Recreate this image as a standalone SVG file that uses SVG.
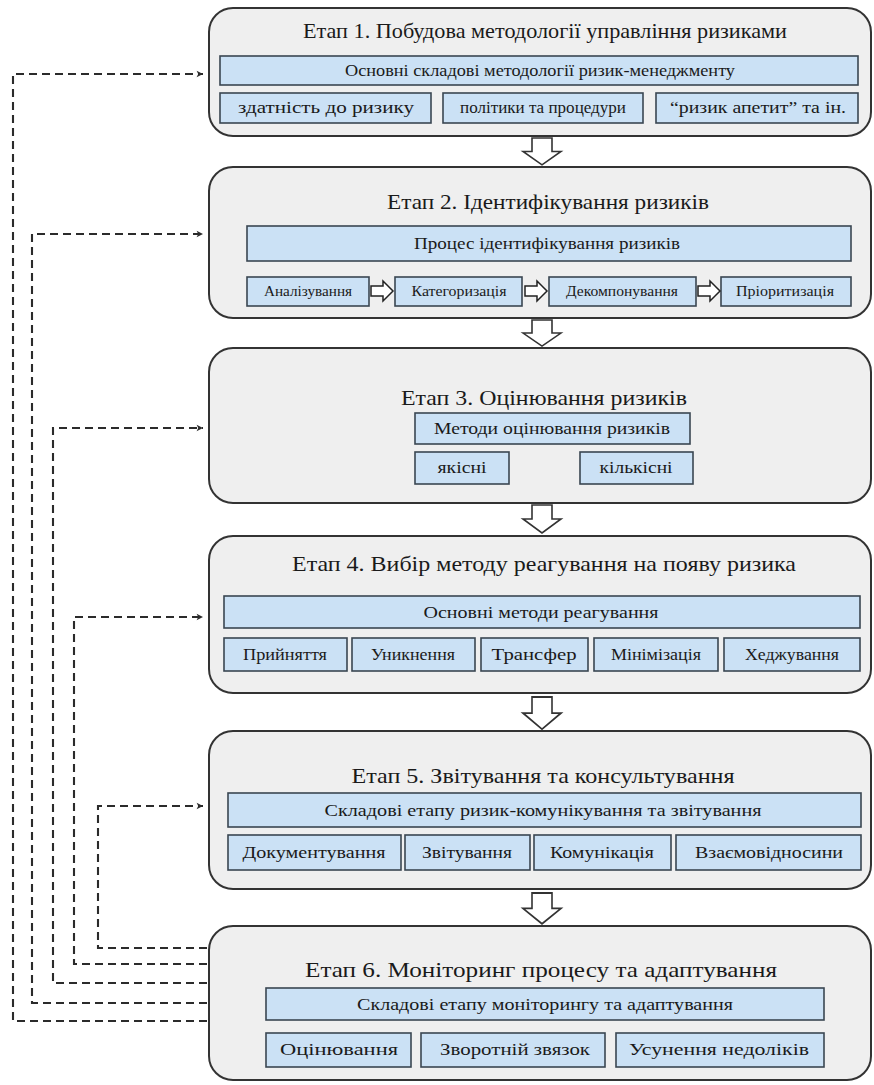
<svg xmlns="http://www.w3.org/2000/svg" width="874" height="1085" viewBox="0 0 874 1085">
<style>
.stage{fill:#efefef;stroke:#333;stroke-width:2}
.bx{fill:#cbe1f5;stroke:#3a4652;stroke-width:1.6}
.t{font-family:"Liberation Serif","Times New Roman",serif;fill:#1a1a1a;text-anchor:middle}
.ttl{font-size:22px}
.bar{font-size:17px}
.sub{font-size:16px}
.sm{font-size:14px}
.blk{fill:#ffffff;stroke:#333;stroke-width:1.6}
.sa{fill:#ffffff;stroke:#222;stroke-width:1.5}
.dash{fill:none;stroke:#2b2b2b;stroke-width:2.1;stroke-dasharray:8 5}
</style>
<defs>
<marker id="ah" viewBox="0 0 10 10" refX="9" refY="5" markerWidth="8" markerHeight="8" orient="auto" markerUnits="userSpaceOnUse">
<path d="M1,1 L9,5 L1,9 L3,5 Z" fill="#2b2b2b"/>
</marker>
<path id="down" d="M-10,0 H10 V14 H19 L0,28 L-19,14 H-10 Z"/>
<path id="right" d="M0,-5 H12 V-10 L22,0 L12,10 V5 H0 Z"/>
</defs>

<g id="connectors">
<polyline class="dash" points="207,1021 13,1021 13,74 203,74" marker-end="url(#ah)"/>
<polyline class="dash" points="207,1003 32,1003 32,234 203,234" marker-end="url(#ah)"/>
<polyline class="dash" points="207,983 53,983 53,428 203,428" marker-end="url(#ah)"/>
<polyline class="dash" points="207,964 74,964 74,617 203,617" marker-end="url(#ah)"/>
<polyline class="dash" points="207,948 98,948 98,806 203,806" marker-end="url(#ah)"/>
<use href="#down" class="blk" transform="translate(542,138) scale(1,0.96)"/>
<use href="#down" class="blk" transform="translate(542,320) scale(1,0.93)"/>
<use href="#down" class="blk" transform="translate(542,505)"/>
<use href="#down" class="blk" transform="translate(542,697) scale(1,1.15)"/>
<use href="#down" class="blk" transform="translate(542,893) scale(1,1.1)"/>
</g>

<g id="stage1">
<rect class="stage" x="209" y="8" width="662" height="128" rx="24"/>
<text class="t ttl" x="545" y="38" textLength="484" lengthAdjust="spacingAndGlyphs">Етап 1. Побудова методології управління ризиками</text>
<rect class="bx" x="220" y="56" width="638" height="29"/>
<text class="t bar" x="540" y="76" textLength="390" lengthAdjust="spacingAndGlyphs">Основні складові методології ризик-менеджменту</text>
<rect class="bx" x="220" y="93" width="211" height="30"/>
<text class="t sub" x="326" y="113" textLength="176" lengthAdjust="spacingAndGlyphs">здатність до ризику</text>
<rect class="bx" x="443" y="93" width="200" height="30"/>
<text class="t sub" x="543" y="113" textLength="166" lengthAdjust="spacingAndGlyphs">політики та процедури</text>
<rect class="bx" x="656" y="93" width="202" height="30"/>
<text class="t sub" x="758" y="113" textLength="176" lengthAdjust="spacingAndGlyphs">“ризик апетит” та ін.</text>
</g>

<g id="stage2">
<rect class="stage" x="209" y="167" width="662" height="151" rx="24"/>
<text class="t ttl" x="548" y="209" textLength="322" lengthAdjust="spacingAndGlyphs">Етап 2. Ідентифікування ризиків</text>
<rect class="bx" x="247" y="226" width="604" height="35"/>
<text class="t bar" x="547" y="249" textLength="266" lengthAdjust="spacingAndGlyphs">Процес ідентифікування ризиків</text>
<rect class="bx" x="247" y="277" width="122" height="29"/>
<text class="t sm" x="308" y="296" textLength="88" lengthAdjust="spacingAndGlyphs">Аналізування</text>
<rect class="bx" x="395" y="277" width="127" height="29"/>
<text class="t sm" x="459" y="296" textLength="95" lengthAdjust="spacingAndGlyphs">Категоризація</text>
<rect class="bx" x="549" y="277" width="147" height="29"/>
<text class="t sm" x="622" y="296" textLength="112" lengthAdjust="spacingAndGlyphs">Декомпонування</text>
<rect class="bx" x="721" y="277" width="130" height="29"/>
<text class="t sm" x="785" y="296" textLength="98" lengthAdjust="spacingAndGlyphs">Пріоритизація</text>
<use href="#right" class="sa" x="371" y="291"/>
<use href="#right" class="sa" x="525" y="291"/>
<use href="#right" class="sa" x="698" y="291"/>
</g>

<g id="stage3">
<rect class="stage" x="209" y="348" width="662" height="155" rx="24"/>
<text class="t ttl" x="544" y="405" textLength="286" lengthAdjust="spacingAndGlyphs">Етап 3. Оцінювання ризиків</text>
<rect class="bx" x="415" y="413" width="275" height="31"/>
<text class="t bar" x="552" y="434" textLength="236" lengthAdjust="spacingAndGlyphs">Методи оцінювання ризиків</text>
<rect class="bx" x="415" y="452" width="94" height="32"/>
<text class="t sub" x="462" y="473" textLength="49" lengthAdjust="spacingAndGlyphs">якісні</text>
<rect class="bx" x="580" y="452" width="113" height="32"/>
<text class="t sub" x="636" y="473" textLength="73" lengthAdjust="spacingAndGlyphs">кількісні</text>
</g>

<g id="stage4">
<rect class="stage" x="209" y="536" width="662" height="157" rx="24"/>
<text class="t ttl" x="544" y="571" textLength="504" lengthAdjust="spacingAndGlyphs">Етап 4. Вибір методу реагування на появу ризика</text>
<rect class="bx" x="224" y="596" width="636" height="32"/>
<text class="t bar" x="541" y="618" textLength="235" lengthAdjust="spacingAndGlyphs">Основні методи реагування</text>
<rect class="bx" x="224" y="638" width="123" height="33"/>
<text class="t sub" x="285" y="660" textLength="84" lengthAdjust="spacingAndGlyphs">Прийняття</text>
<rect class="bx" x="352" y="638" width="123" height="33"/>
<text class="t sub" x="413" y="660" textLength="84" lengthAdjust="spacingAndGlyphs">Уникнення</text>
<rect class="bx" x="481" y="638" width="107" height="33"/>
<text class="t sub" x="534" y="660" textLength="85" lengthAdjust="spacingAndGlyphs">Трансфер</text>
<rect class="bx" x="594" y="638" width="124" height="33"/>
<text class="t sub" x="656" y="660" textLength="90" lengthAdjust="spacingAndGlyphs">Мінімізація</text>
<rect class="bx" x="724" y="638" width="136" height="33"/>
<text class="t sub" x="792" y="660" textLength="94" lengthAdjust="spacingAndGlyphs">Хеджування</text>
</g>

<g id="stage5">
<rect class="stage" x="209" y="731" width="662" height="158" rx="24"/>
<text class="t ttl" x="543" y="783" textLength="383" lengthAdjust="spacingAndGlyphs">Етап 5. Звітування та консультування</text>
<rect class="bx" x="228" y="793" width="633" height="34"/>
<text class="t bar" x="543" y="816" textLength="437" lengthAdjust="spacingAndGlyphs">Складові етапу ризик-комунікування та звітування</text>
<rect class="bx" x="228" y="835" width="173" height="35"/>
<text class="t sub" x="314" y="858" textLength="143" lengthAdjust="spacingAndGlyphs">Документування</text>
<rect class="bx" x="405" y="835" width="125" height="35"/>
<text class="t sub" x="467" y="858" textLength="90" lengthAdjust="spacingAndGlyphs">Звітування</text>
<rect class="bx" x="534" y="835" width="137" height="35"/>
<text class="t sub" x="602" y="858" textLength="104" lengthAdjust="spacingAndGlyphs">Комунікація</text>
<rect class="bx" x="676" y="835" width="185" height="35"/>
<text class="t sub" x="769" y="858" textLength="148" lengthAdjust="spacingAndGlyphs">Взаємовідносини</text>
</g>

<g id="stage6">
<rect class="stage" x="209" y="926" width="662" height="154" rx="24"/>
<text class="t ttl" x="541" y="977" textLength="472" lengthAdjust="spacingAndGlyphs">Етап 6. Моніторинг процесу та адаптування</text>
<rect class="bx" x="266" y="988" width="558" height="32"/>
<text class="t bar" x="545" y="1010" textLength="376" lengthAdjust="spacingAndGlyphs">Складові етапу моніторингу та адаптування</text>
<rect class="bx" x="266" y="1033" width="145" height="34"/>
<text class="t sub" x="339" y="1055" textLength="118" lengthAdjust="spacingAndGlyphs">Оцінювання</text>
<rect class="bx" x="421" y="1033" width="184" height="34"/>
<text class="t sub" x="515" y="1055" textLength="150" lengthAdjust="spacingAndGlyphs">Зворотній звязок</text>
<rect class="bx" x="616" y="1033" width="208" height="34"/>
<text class="t sub" x="719" y="1055" textLength="180" lengthAdjust="spacingAndGlyphs">Усунення недоліків</text>
</g>
</svg>
